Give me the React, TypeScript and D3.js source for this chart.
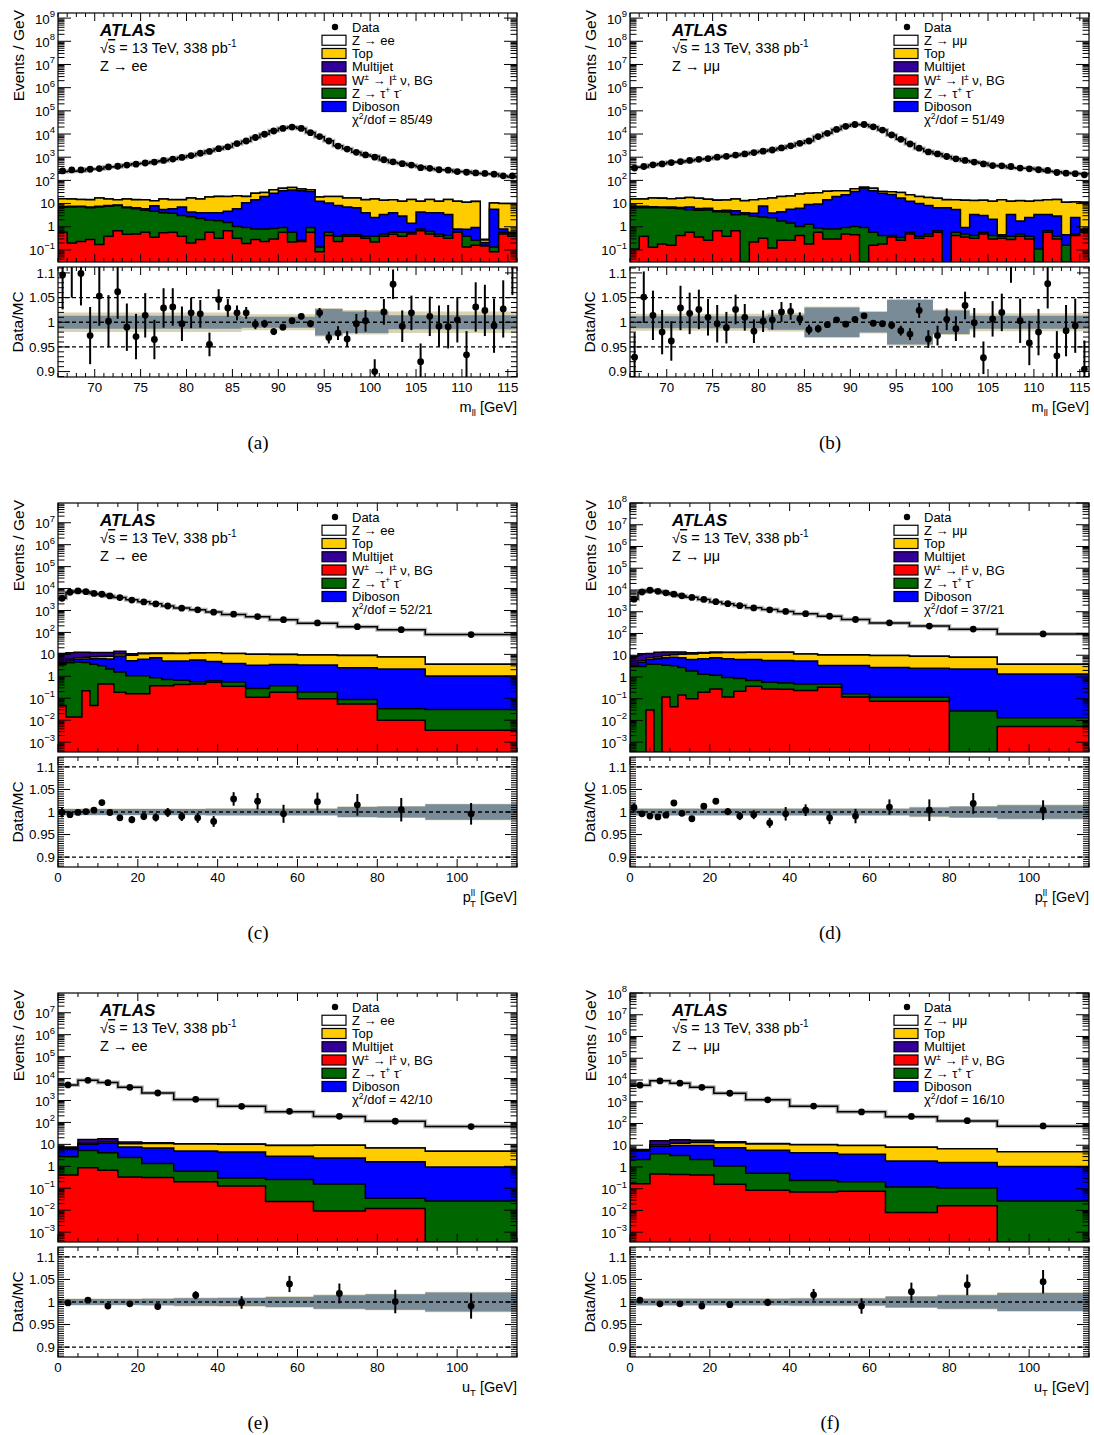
import React from "react";
import * as d3 from "d3";

const FONT = "'Liberation Sans', Arial, Helvetica, sans-serif";
const SERIF = "'Liberation Serif', 'Times New Roman', serif";

const COL_LEFT = [58, 630];
const ROW_TOP = [13, 503, 993];
const FW = 459, MH = 249, GAP = 5, RH = 110;

const COLORS = { sig: "#ffffff", top: "#ffcc00", mj: "#330099", w: "#ff0000", ztt: "#006600", dib: "#0000ff", band: "#7a8b98", bandOuter: "#d8d3b3" };

// ---------------- binning ----------------
const massEdges = d3.range(66, 117);
const ptEdges = [0, 2, 4, 6, 8, 10, 12, 14, 17, 20, 23, 26, 29, 33, 37, 41, 47, 53, 60, 70, 80, 92, 115];
const utEdges = [0, 5, 10, 15, 21, 29, 40, 52, 64, 77, 92, 115];
const massMajor = [70, 75, 80, 85, 90, 95, 100, 105, 110, 115];
const massMinor = d3.range(66, 117);
const ptMajor = [0, 20, 40, 60, 80, 100];
const ptMinor = d3.range(0, 116, 5);
const ratioMajor = [0.9, 0.95, 1, 1.05, 1.1];
const ratioLabels = ["0.9", "0.95", "1", "1.05", "1.1"];

// ---------------- (a) m_ll, ee ----------------
const aData = [257, 282, 282, 302, 324, 380, 407, 457, 501, 562, 617, 724, 832, 977, 1175, 1479, 1778, 2344, 2818, 3890, 5012, 7079, 9772, 13490, 17380, 19950, 17380, 11480, 7762, 5012, 3020, 2239, 1622, 1259, 1000, 776, 631, 525, 457, 355, 331, 288, 275, 240, 224, 209, 200, 186, 158, 158];
const aRatio = [1.096, 1.125, 1.099, 0.973, 1.053, 1.002, 1.062, 0.990, 0.971, 1.014, 0.965, 1.029, 1.031, 0.997, 1.019, 1.017, 0.955, 1.046, 1.029, 1.019, 1.019, 0.996, 0.997, 0.981, 0.990, 1.003, 1.012, 0.997, 1.019, 0.969, 0.978, 0.966, 0.997, 1.003, 0.900, 1.021, 1.077, 0.992, 1.019, 0.920, 1.012, 0.992, 0.991, 1.005, 0.934, 1.031, 1.024, 0.993, 1.027, 1.130];
const aRatioErr = [0.07, 0.075, 0.065, 0.058, 0.06, 0.053, 0.055, 0.048, 0.046, 0.045, 0.04, 0.04, 0.038, 0.035, 0.031, 0.028, 0.024, 0.021, 0.018, 0.015, 0.012, 0.01, 0.008, 0.007, 0.006, 0.006, 0.006, 0.007, 0.01, 0.012, 0.014, 0.016, 0.02, 0.022, 0.025, 0.026, 0.03, 0.032, 0.035, 0.037, 0.04, 0.042, 0.044, 0.046, 0.048, 0.05, 0.052, 0.055, 0.058, 0.075];
const aW = [0.58, 0.20, 0.23, 0.28, 0.17, 0.39, 0.68, 0.48, 0.49, 0.58, 0.355, 0.55, 0.58, 0.39, 0.20, 0.28, 0.58, 0.32, 0.68, 0.32, 0.19, 0.28, 0.23, 0.30, 0.58, 0.22, 0.234, 0.58, 0.083, 0.42, 0.234, 0.39, 0.39, 0.32, 0.22, 0.39, 0.48, 0.39, 0.49, 0.68, 0.49, 0.39, 0.32, 0.58, 0.135, 0.16, 0.148, 0.083, 0.49, 0.39];
const aZtt = [6.4, 7.0, 7.0, 6.3, 7.0, 7.3, 7.5, 6.1, 5.5, 4.6, 4.3, 3.45, 3.2, 2.7, 2.5, 2.0, 1.4, 1.5, 0.84, 0.71, 0.75, 0.52, 0.57, 0.55, 0.36, 0.36, 0.03, 0.36, 0.05, 0.16, 0.16, 0.06, 0.06, 0.07, 0.17, 0.10, 0.10, 0.19, 0.09, 0.12, 0.13, 0.10, 0.10, 0.05, 0.25, 0.10, 0.01, 0.05, 0.09, 0.10];
const aDib = [0.5, 0.5, 0.5, 0.5, 0.5, 0.5, 0.5, 0.5, 0.6, 0.8, 3.5, 1.6, 2.2, 4.1, 1.6, 1.75, 2.0, 2.2, 3.2, 5.0, 9.8, 14.0, 19.6, 27.2, 34.6, 38.4, 35.7, 32.1, 12.4, 10.1, 7.8, 6.75, 6.15, 3.6, 2.1, 2.9, 3.4, 2.3, 0.85, 3.5, 3.4, 3.5, 3.0, 0.17, 0.4, 0.68, 0.05, 5.5, 0.22, 0.09];
const aTop = [8.8, 8.0, 7.1, 7.7, 9.7, 7.5, 6.1, 8.6, 8.2, 8.8, 5.2, 10.1, 8.8, 7.6, 13.1, 11.7, 15.1, 16.4, 15.7, 15.8, 9.7, 13.2, 9.6, 11.0, 10.5, 10.0, 7.0, 6.0, 6.6, 9.7, 12.2, 10.2, 10.8, 10.8, 13.2, 10.4, 10.8, 9.6, 13.4, 8.2, 10.8, 8.5, 11.4, 11.7, 10.6, 11.5, 0.06, 5.0, 9.2, 9.4];
const aMJ = [0.03, 0.03, 0.02, 0.03, 0.02, 0.03, 0.02, 0.02, 0.03, 0.02, 0.02, 0.02, 0.03, 0.02, 0.02, 0.02, 0.02, 0.03, 0.02, 0.02, 0.02, 0.03, 0.02, 0.02, 0.03, 0.02, 0.02, 0.02, 0.02, 0.03, 0.02, 0.02, 0.02, 0.02, 0.03, 0.02, 0.02, 0.02, 0.02, 0.02, 0.02, 0.03, 0.02, 0.02, 0.02, 0.02, 0.02, 0.02, 0.02, 0.02];
const aBandIn = [0.013, 0.013, 0.013, 0.013, 0.013, 0.013, 0.013, 0.013, 0.013, 0.013, 0.013, 0.013, 0.013, 0.013, 0.013, 0.013, 0.013, 0.013, 0.013, 0.013, 0.011, 0.011, 0.011, 0.011, 0.011, 0.011, 0.011, 0.011, 0.027, 0.027, 0.027, 0.022, 0.022, 0.022, 0.022, 0.022, 0.014, 0.014, 0.014, 0.014, 0.014, 0.014, 0.014, 0.014, 0.014, 0.014, 0.014, 0.014, 0.014, 0.014];
const aBandOut = [0.02, 0.02, 0.02, 0.02, 0.02, 0.02, 0.02, 0.02, 0.02, 0.02, 0.02, 0.02, 0.02, 0.02, 0.02, 0.02, 0.02, 0.02, 0.02, 0.02, 0.016, 0.016, 0.016, 0.016, 0.016, 0.016, 0.016, 0.016, 0.029, 0.029, 0.029, 0.025, 0.025, 0.025, 0.025, 0.025, 0.022, 0.022, 0.022, 0.022, 0.022, 0.022, 0.022, 0.022, 0.022, 0.022, 0.022, 0.022, 0.022, 0.022];

// ---------------- (b) m_ll, mumu ----------------
const bData = [339, 398, 468, 513, 589, 646, 724, 813, 871, 1000, 1096, 1230, 1380, 1585, 1820, 2042, 2512, 3090, 3981, 5012, 7762, 10720, 15850, 21380, 25700, 25700, 20420, 14790, 9120, 5888, 3715, 2455, 1698, 1380, 1072, 851, 724, 617, 513, 437, 427, 398, 339, 316, 288, 269, 219, 204, 195, 174];
const bRatio = [0.929, 1.051, 1.014, 0.98, 0.962, 1.029, 1.018, 1.026, 1.01, 0.997, 0.989, 1.026, 1.01, 0.982, 1.002, 1.005, 1.021, 1.022, 1.007, 0.985, 0.987, 0.995, 1.005, 0.996, 1.006, 1.013, 0.998, 0.997, 0.994, 0.983, 0.976, 1.024, 0.966, 0.973, 1.006, 0.987, 1.034, 0.999, 0.928, 1.007, 1.02, 1.13, 1.003, 0.958, 0.98, 1.078, 0.932, 0.983, 0.993, 0.905];
const bRatioErr = [0.05, 0.052, 0.05, 0.045, 0.04, 0.045, 0.042, 0.04, 0.037, 0.038, 0.032, 0.03, 0.027, 0.024, 0.022, 0.02, 0.02, 0.017, 0.013, 0.01, 0.008, 0.006, 0.005, 0.005, 0.005, 0.005, 0.005, 0.006, 0.008, 0.01, 0.012, 0.015, 0.018, 0.02, 0.022, 0.025, 0.028, 0.03, 0.033, 0.036, 0.038, 0.05, 0.045, 0.045, 0.047, 0.05, 0.05, 0.052, 0.055, 0.058];
const bW = [0.11, 0.39, 0.13, 0.18, 0.16, 0.42, 0.58, 0.36, 0.26, 0.68, 0.39, 0.68, 0, 0.22, 0.32, 0.12, 0.26, 0.26, 0.42, 0.18, 0.58, 0.3, 0.3, 0.49, 0.45, 0, 0.16, 0.18, 0.36, 0.26, 0.49, 0.32, 0.39, 0.58, 0, 0.42, 0.36, 0.32, 0.49, 0.3, 0.32, 0.28, 0.39, 0.3, 0, 0.58, 0.3, 0, 0.42, 0.58];
const bZtt = [6.5, 6.2, 6.5, 6.4, 6.1, 5.5, 4.8, 4.8, 5.0, 3.8, 3.9, 2.6, 3.4, 2.7, 2.3, 2.3, 1.5, 1.2, 0.6, 1.1, 0.3, 0.5, 0.5, 0.45, 0.58, 0.94, 0.42, 0.24, 0.06, 0.08, 0.09, 0.07, 0.1, 0.1, 0, 0.16, 0.13, 0.1, 0.09, 0.12, 0.07, 0.11, 0.1, 0.09, 0.11, 0.1, 0.09, 0.16, 0.07, 0.1];
const bDib = [1.1, 1.1, 0.6, 0.6, 0.9, 0.9, 1.7, 1.0, 1.0, 0.4, 0.9, 1.6, 0.6, 0.9, 5.3, 1.5, 2.7, 4.2, 5.2, 7.8, 8.6, 14, 19.6, 23, 32, 45, 35, 27.6, 24, 17, 11.9, 9.6, 7.7, 5.9, 6.6, 5.0, 0.45, 3.0, 2.5, 1.7, 0.06, 3.0, 1.3, 2.1, 3.3, 2.7, 2.5, 0.29, 2.0, 0.12];
const bTop = [8.1, 8.1, 10.2, 10, 9.1, 10.2, 11, 10.8, 9.1, 9.2, 9.2, 10.7, 9.4, 10.8, 8.1, 13.4, 15.6, 15.8, 19.4, 18.8, 20, 18.8, 15.4, 12, 11, 5, 10, 5, 8, 12.6, 11.5, 10.4, 10.3, 10.3, 8.2, 9.2, 12.9, 10, 10.7, 10.4, 14.3, 9.1, 11.6, 10, 10, 11.4, 12, 11, 9.3, 10.6];
const bMJ = [0.02, 0.03, 0.02, 0.02, 0.03, 0.02, 0.02, 0.03, 0.02, 0.02, 0.02, 0.02, 0.03, 0.02, 0.02, 0.03, 0.02, 0.02, 0.02, 0.03, 0.02, 0.02, 0.02, 0.02, 0.03, 0.02, 0.02, 0.02, 0.03, 0.02, 0.02, 0.02, 0.02, 0.02, 0.03, 0.02, 0.02, 0.02, 0.02, 0.03, 0.02, 0.02, 0.02, 0.02, 0.02, 0.02, 0.02, 0.02, 0.02, 0.02];
const bBandIn = [0.012, 0.012, 0.012, 0.012, 0.012, 0.012, 0.012, 0.012, 0.012, 0.012, 0.012, 0.012, 0.012, 0.012, 0.012, 0.015, 0.015, 0.015, 0.015, 0.03, 0.03, 0.03, 0.03, 0.03, 0.03, 0.021, 0.021, 0.021, 0.045, 0.045, 0.045, 0.045, 0.045, 0.024, 0.024, 0.024, 0.024, 0.013, 0.013, 0.013, 0.013, 0.013, 0.013, 0.013, 0.013, 0.013, 0.013, 0.013, 0.013, 0.013];
const bBandOut = [0.017, 0.017, 0.017, 0.017, 0.017, 0.017, 0.017, 0.017, 0.017, 0.017, 0.017, 0.017, 0.017, 0.017, 0.017, 0.019, 0.019, 0.019, 0.019, 0.032, 0.032, 0.032, 0.032, 0.032, 0.032, 0.023, 0.023, 0.023, 0.047, 0.047, 0.047, 0.047, 0.047, 0.026, 0.026, 0.026, 0.026, 0.018, 0.018, 0.018, 0.018, 0.018, 0.018, 0.018, 0.018, 0.018, 0.018, 0.018, 0.018, 0.018];

// ---------------- (c) pT ll, ee ----------------
const cData = [3600, 6800, 7800, 7200, 6000, 5500, 4600, 3900, 3000, 2450, 2000, 1600, 1280, 1070, 840, 680, 530, 380, 270, 183, 134, 80];
const cRatio = [0.999, 0.994, 0.999, 1.001, 1.004, 1.021, 0.999, 0.987, 0.983, 0.99, 0.988, 0.999, 0.99, 0.987, 0.979, 1.029, 1.024, 0.996, 1.023, 1.016, 1.005, 0.996];
const cRatioErr = [0.011, 0.005, 0.004, 0.004, 0.004, 0.006, 0.007, 0.007, 0.008, 0.008, 0.009, 0.01, 0.01, 0.011, 0.012, 0.015, 0.018, 0.02, 0.02, 0.024, 0.026, 0.024];
const cW = [0.047, 0.014, 0.014, 0.22, 0.047, 0.45, 0.45, 0.19, 0.16, 0.16, 0.37, 0.37, 0.42, 0.45, 0.53, 0.35, 0.11, 0.19, 0.094, 0.055, 0.01, 0.0035];
const cZtt = [3.45, 4.19, 4.5, 4.0, 3.5, 2.6, 1.7, 1.4, 0.9, 0.9, 0.5, 0.35, 0.25, 0.12, 0.1, 0.2, 0.17, 0.18, 0.1, 0.032, 0.023, 0.027];
const cDib = [0.3, 1.3, 1.5, 2.0, 2.7, 3.2, 4.0, 6.8, 4.0, 5.0, 6.1, 4.3, 4.3, 5.0, 4.1, 3.3, 2.9, 3.1, 3.1, 2.4, 2.1, 1.0];
const cTop = [0.5, 0.7, 1.0, 1.2, 1.5, 1.8, 2.0, 2.0, 4.0, 4.5, 4.0, 6.0, 6.0, 6.0, 7.0, 7.0, 7.0, 6.5, 6.0, 6.5, 5.5, 2.5];
const cMJ = [6.7, 5.8, 5.5, 5.0, 4.5, 4.0, 4.0, 3.5, 1.5, 1.0, 0.6, 0.4, 0.3, 0.2, 0.1, 0.1, 0.05, 0.05, 0.03, 0.02, 0.01, 0.01];
const cBandIn = [0.0065, 0.0065, 0.0065, 0.0065, 0.0065, 0.0065, 0.0065, 0.0065, 0.0065, 0.0065, 0.0065, 0.0065, 0.0065, 0.0065, 0.007, 0.007, 0.007, 0.007, 0.007, 0.011, 0.012, 0.017];
const cBandOut = [0.008, 0.008, 0.008, 0.008, 0.008, 0.008, 0.008, 0.008, 0.008, 0.008, 0.008, 0.008, 0.008, 0.008, 0.0085, 0.0085, 0.0085, 0.0085, 0.0085, 0.0125, 0.0135, 0.0185];

// ---------------- (d) pT ll, mumu ----------------
const dData = [3800, 8100, 9700, 8700, 7400, 6400, 5400, 4550, 3700, 2900, 2350, 1900, 1500, 1230, 1030, 810, 620, 440, 310, 220, 160, 95];
const dRatio = [1.01, 0.996, 0.991, 0.989, 0.993, 1.02, 0.997, 0.985, 1.013, 1.024, 1.001, 0.991, 0.994, 0.976, 0.996, 1.004, 0.987, 0.991, 1.011, 1.004, 1.019, 1.004];
const dRatioErr = [0.009, 0.004, 0.004, 0.004, 0.004, 0.005, 0.006, 0.006, 0.007, 0.007, 0.008, 0.009, 0.01, 0.011, 0.015, 0.013, 0.014, 0.016, 0.017, 0.024, 0.023, 0.022];
const dW = [0, 0, 0.03, 0, 0.12, 0.043, 0.15, 0.1, 0.2, 0.28, 0.12, 0.22, 0.37, 0.28, 0.27, 0.24, 0.34, 0.12, 0.077, 0.077, 0, 0.0053];
const dZtt = [3, 3, 3.8, 3.8, 3.3, 3.2, 2.55, 1.8, 1.15, 0.92, 0.83, 0.64, 0.31, 0.29, 0.26, 0.24, 0.14, 0.05, 0.04, 0.04, 0.027, 0.008];
const dDib = [0.1, 1.8, 2.6, 3.0, 4.2, 4.9, 4.9, 4.5, 5.45, 6.4, 5.85, 5.5, 5.7, 5.1, 5.2, 4.9, 2.9, 3.2, 2.6, 2.4, 2.3, 1.34];
const dTop = [0.3, 0.8, 1.2, 1.5, 2, 2.5, 3.5, 5, 5.5, 5.5, 6.5, 7, 7.3, 7.9, 7.8, 6.1, 7, 7, 7, 6.5, 5.7, 2.5];
const dMJ = [5.5, 6, 4.5, 5.5, 4.5, 3.5, 3, 1.5, 1, 0.8, 0.5, 0.3, 0.2, 0.1, 0.1, 0.05, 0.05, 0.03, 0.02, 0.02, 0.01, 0.01];
const dBandIn = [0.007, 0.007, 0.007, 0.007, 0.007, 0.007, 0.007, 0.007, 0.007, 0.007, 0.007, 0.007, 0.007, 0.007, 0.007, 0.007, 0.007, 0.007, 0.007, 0.01, 0.012, 0.015];
const dBandOut = [0.0085, 0.0085, 0.0085, 0.0085, 0.0085, 0.0085, 0.0085, 0.0085, 0.0085, 0.0085, 0.0085, 0.0085, 0.0085, 0.0085, 0.0085, 0.0085, 0.0085, 0.0085, 0.0085, 0.0115, 0.0135, 0.0165];

// ---------------- (e) uT, ee ----------------
const eData = [5100, 8300, 6500, 4000, 2200, 1130, 540, 320, 190, 113, 65];
const eRatio = [0.998, 1.004, 0.991, 0.996, 0.99, 1.015, 0.999, 1.04, 1.019, 1.001, 0.991];
const eRatioErr = [0.004, 0.004, 0.004, 0.004, 0.005, 0.009, 0.014, 0.018, 0.022, 0.026, 0.028];
const eW = [0.4, 0.85, 0.66, 0.33, 0.31, 0.2, 0.126, 0.025, 0.0093, 0.012, 0];
const eZtt = [2.3, 4.45, 3.54, 2.17, 1.04, 0.4, 0.17, 0.225, 0.146, 0.023, 0.026];
const eDib = [3.2, 4.7, 7.3, 5.1, 5.45, 4.4, 4.2, 2.65, 2.25, 1.56, 0.91];
const eTop = [0.7, 1.2, 1.6, 3.0, 4.3, 5.5, 5.7, 6.1, 6.6, 5.2, 3.9];
const eMJ = [1.0, 5.6, 5.0, 2.1, 0.8, 0.2, 0.1, 0.05, 0.03, 0.02, 0.01];
const eBandIn = [0.0067, 0.0067, 0.0067, 0.0067, 0.007, 0.0085, 0.009, 0.011, 0.015, 0.017, 0.021];
const eBandOut = [0.008, 0.008, 0.008, 0.008, 0.0085, 0.01, 0.0105, 0.0125, 0.0165, 0.0185, 0.0225];

// ---------------- (f) uT, mumu ----------------
const fData = [5800, 9100, 7100, 4600, 2450, 1230, 630, 340, 210, 135, 77];
const fRatio = [1.004, 0.996, 0.996, 0.991, 0.994, 0.999, 1.016, 0.991, 1.023, 1.038, 1.045];
const fRatioErr = [0.004, 0.003, 0.003, 0.003, 0.004, 0.008, 0.013, 0.017, 0.02, 0.023, 0.026];
const fW = [0.17, 0.48, 0.45, 0.43, 0.16, 0.085, 0.071, 0.077, 0.0081, 0.0166, 0];
const fZtt = [2.03, 3.62, 2.95, 1.77, 0.94, 0.425, 0.17, 0.133, 0.112, 0.09, 0.027];
const fDib = [3.2, 4.9, 6.3, 7.5, 6.5, 5.4, 4.26, 3.6, 1.78, 1.5, 1.02];
const fTop = [0.5, 1.2, 2.5, 3.5, 5.5, 5.6, 6.1, 5.9, 6.2, 5.2, 4.0];
const fMJ = [0.5, 6.0, 5.8, 3.6, 1.5, 0.4, 0.1, 0.05, 0.03, 0.02, 0.01];
const fBandIn = [0.007, 0.007, 0.007, 0.007, 0.007, 0.007, 0.008, 0.008, 0.012, 0.015, 0.02];
const fBandOut = [0.0085, 0.0085, 0.0085, 0.0085, 0.0085, 0.0085, 0.0095, 0.0095, 0.0135, 0.0165, 0.0215];

const chi2 = ["85/49", "51/49", "52/21", "37/21", "42/10", "16/10"];
const tags = ["(a)", "(b)", "(c)", "(d)", "(e)", "(f)"];

function mk(i, edges, kind, data, ratio, ratioErr, w, ztt, dib, topBg, mj, bandIn, bandOut) {
  const col = i % 2, row = Math.floor(i / 2);
  const isMass = kind === "m";
  return {
    key: tags[i], fLeft: COL_LEFT[col], fTop: ROW_TOP[row], edges,
    xDomain: [edges[0], edges[edges.length - 1]],
    xMajor: isMass ? massMajor : ptMajor, xMinor: isMass ? massMinor : ptMinor,
    logLo: isMass ? -1.52 : -3.45, logHi: isMass ? 9.22 : (col === 0 ? 7.9 : 8.0),
    rLo: isMass ? 0.889 : 0.878, rHi: isMass ? 1.112 : 1.122,
    rMinor: isMass ? d3.range(89, 112).map(v => v / 100) : d3.range(176, 225).map(v => v / 200),
    rDashed: isMass ? [0.95, 1, 1.05] : [0.9, 1, 1.1],
    data, ratio, ratioErr, w, ztt, dib, topBg, mj, bandIn, bandOut,
    chan: col === 0 ? "ee" : "mm", xTitle: kind, chi2: chi2[i], tag: tags[i],
  };
}

const PANELS = [
  mk(0, massEdges, "m", aData, aRatio, aRatioErr, aW, aZtt, aDib, aTop, aMJ, aBandIn, aBandOut),
  mk(1, massEdges, "m", bData, bRatio, bRatioErr, bW, bZtt, bDib, bTop, bMJ, bBandIn, bBandOut),
  mk(2, ptEdges, "pt", cData, cRatio, cRatioErr, cW, cZtt, cDib, cTop, cMJ, cBandIn, cBandOut),
  mk(3, ptEdges, "pt", dData, dRatio, dRatioErr, dW, dZtt, dDib, dTop, dMJ, dBandIn, dBandOut),
  mk(4, utEdges, "ut", eData, eRatio, eRatioErr, eW, eZtt, eDib, eTop, eMJ, eBandIn, eBandOut),
  mk(5, utEdges, "ut", fData, fRatio, fRatioErr, fW, fZtt, fDib, fTop, fMJ, fBandIn, fBandOut),
];

const TICK_FS = 13.3;

function LogLabel({ k, x, y }) {
  if (k === 0) return <text x={x} y={y + 4.7} textAnchor="end" fontSize={TICK_FS}>1</text>;
  if (k === 1) return <text x={x} y={y + 4.7} textAnchor="end" fontSize={TICK_FS}>10</text>;
  return (
    <text x={x} y={y + 5.5} textAnchor="end" fontSize={TICK_FS}>
      10<tspan dy={-6.5} fontSize={9.5}>{k < 0 ? "\u2212" + (-k) : String(k)}</tspan>
    </text>
  );
}

function PanelView({ c }) {
  const L = c.fLeft, T = c.fTop, R = L + FW, B = T + MH;
  const rT = B + GAP, rB = rT + RH;
  const x = d3.scaleLinear().domain(c.xDomain).range([L, R]);
  const y = d3.scaleLog().domain([Math.pow(10, c.logLo), Math.pow(10, c.logHi)]).range([B, T]).clamp(true);
  const yr = d3.scaleLinear().domain([c.rLo, c.rHi]).range([rB, rT]);
  const n = c.data.length;
  const centers = d3.range(n).map(i => (c.edges[i] + c.edges[i + 1]) / 2);
  const mc = c.data.map((d, i) => d / c.ratio[i]);
  const rows = d3.range(n).map(i => ({ w: c.w[i], ztt: c.ztt[i], dib: c.dib[i], top: c.topBg[i], mj: c.mj[i] }));
  const series = d3.stack().keys(["w", "ztt", "dib", "top", "mj"])(rows);
  const cum = k => series[k].map(s => s[1]);
  const floorV = Math.pow(10, c.logLo - 2);
  const steps = vals => c.edges.map((e, i) => ({ e, v: vals[Math.min(i, n - 1)] }));
  const area = d3.area().x(d => x(d.e)).y0(B + 3).y1(d => y(Math.max(d.v, floorV))).curve(d3.curveStepAfter);
  const line = d3.line().x(d => x(d.e)).y(d => y(Math.max(d.v, floorV))).curve(d3.curveStepAfter);
  const band = d3.area().x(d => x(d.e)).y0(d => yr(1 - d.v)).y1(d => yr(1 + d.v)).curve(d3.curveStepAfter);

  const layers = [
    { vals: cum(4), fill: COLORS.mj },
    { vals: cum(3), fill: COLORS.top },
    { vals: cum(2), fill: COLORS.dib },
    { vals: cum(1), fill: COLORS.ztt },
    { vals: cum(0), fill: COLORS.w },
  ];

  const logMajor = [], logMinor = [];
  for (let k = Math.floor(c.logLo); k <= Math.ceil(c.logHi); k++) {
    for (let m = 1; m <= 9; m++) {
      const lv = Math.log10(m) + k;
      if (lv < c.logLo - 1e-9 || lv > c.logHi + 1e-9) continue;
      if (m === 1) logMajor.push(k); else logMinor.push(m * Math.pow(10, k));
    }
  }
  const isMaj = v => c.xMajor.some(mv => Math.abs(mv - v) < 1e-9);
  const id = c.tag.replace(/[()]/g, "");
  const clipMain = `clipM${id}`;
  const clipRatio = `clipR${id}`;

  const chanLabel = c.chan === "ee" ? "Z \u2192 ee" : "Z \u2192 \u03bc\u03bc";
  const legRows = [
    { fill: COLORS.sig, label: <>{chanLabel}</> },
    { fill: COLORS.top, label: <>Top</> },
    { fill: COLORS.mj, label: <>Multijet</> },
    { fill: COLORS.w, label: <>W<tspan dy={-5} fontSize={8.5}>{"\u00b1"}</tspan><tspan dy={5}>{" \u2192 l"}</tspan><tspan dy={-5} fontSize={8.5}>{"\u00b1"}</tspan><tspan dy={5}>{" \u03bd, BG"}</tspan></> },
    { fill: COLORS.ztt, label: <>{"Z \u2192 \u03c4"}<tspan dy={-5} fontSize={8.5}>+</tspan><tspan dy={5}>{" \u03c4"}</tspan><tspan dy={-5} fontSize={8.5}>-</tspan></> },
    { fill: COLORS.dib, label: <>Diboson</> },
  ];
  const legY = k => T + 14 + 13.25 * k;
  const legBoxX = L + 264, legTextX = L + 294;

  let xTitle;
  if (c.xTitle === "m") {
    xTitle = <>m<tspan dy={4} fontSize={9.5}>ll</tspan><tspan dy={-4}> [GeV]</tspan></>;
  } else if (c.xTitle === "pt") {
    xTitle = <>p<tspan dy={-6} fontSize={9.5}>ll</tspan><tspan dx={-5} dy={11} fontSize={9.5}>T</tspan><tspan dy={-5}> [GeV]</tspan></>;
  } else {
    xTitle = <>u<tspan dy={4} fontSize={9.5}>T</tspan><tspan dy={-4}> [GeV]</tspan></>;
  }

  return (
    <g>
      <defs>
        <clipPath id={clipMain}><rect x={L} y={T} width={FW} height={MH} /></clipPath>
        <clipPath id={clipRatio}><rect x={L} y={rT} width={FW} height={RH} /></clipPath>
      </defs>

      <g clipPath={`url(#${clipMain})`}>
        <path d={area(steps(mc))} fill={COLORS.sig} />
        <path d={line(steps(mc))} fill="none" stroke="#b8b8b8" strokeWidth={4} />
        <path d={line(steps(mc))} fill="none" stroke="#000" strokeWidth={1.5} />
        {layers.map((ly, i) => (
          <path key={i} d={area(steps(ly.vals))} fill={ly.fill} stroke="#000" strokeWidth={1.5} />
        ))}
        {c.data.map((d, i) => (
          <circle key={i} cx={x(centers[i])} cy={y(d)} r={3.4} fill="#000" />
        ))}
      </g>

      <g clipPath={`url(#${clipRatio})`}>
        <path d={band(steps(c.bandOut))} fill={COLORS.bandOuter} />
        <path d={band(steps(c.bandIn))} fill={COLORS.band} />
        {c.rDashed.map(v => (
          <line key={v} x1={L} x2={R} y1={yr(v)} y2={yr(v)} stroke="#000" strokeWidth={1.3} strokeDasharray="4,3" />
        ))}
        {c.ratio.map((r, i) => (
          <g key={i}>
            <line x1={x(centers[i])} x2={x(centers[i])} y1={yr(r - c.ratioErr[i])} y2={yr(r + c.ratioErr[i])} stroke="#000" strokeWidth={2} />
            <circle cx={x(centers[i])} cy={yr(r)} r={3.4} fill="#000" />
          </g>
        ))}
      </g>

      <g stroke="#000" strokeWidth={1}>
        {c.xMinor.map(v => {
          const len = isMaj(v) ? 8 : 4;
          const xx = x(v);
          return (
            <g key={v}>
              <line x1={xx} x2={xx} y1={B} y2={B - len} />
              <line x1={xx} x2={xx} y1={T} y2={T + len} />
              <line x1={xx} x2={xx} y1={rB} y2={rB - len} />
              <line x1={xx} x2={xx} y1={rT} y2={rT + len} />
            </g>
          );
        })}
        {logMajor.map(k => {
          const yy = y(Math.pow(10, k));
          return (
            <g key={"M" + k}>
              <line x1={L} x2={L + 13} y1={yy} y2={yy} />
              <line x1={R} x2={R - 13} y1={yy} y2={yy} />
            </g>
          );
        })}
        {logMinor.map((v, i) => {
          const yy = y(v);
          return (
            <g key={"m" + i}>
              <line x1={L} x2={L + 6.5} y1={yy} y2={yy} />
              <line x1={R} x2={R - 6.5} y1={yy} y2={yy} />
            </g>
          );
        })}
        {c.rMinor.map((v, i) => {
          const yy = yr(v);
          const maj = ratioMajor.some(m => Math.abs(m - v) < 1e-9);
          const len = maj ? 12 : 6;
          return (
            <g key={"r" + i}>
              <line x1={L} x2={L + len} y1={yy} y2={yy} />
              <line x1={R} x2={R - len} y1={yy} y2={yy} />
            </g>
          );
        })}
      </g>

      <rect x={L} y={T} width={FW} height={MH} fill="none" stroke="#000" strokeWidth={1.2} />
      <rect x={L} y={rT} width={FW} height={RH} fill="none" stroke="#000" strokeWidth={1.2} />

      {logMajor.map(k => <LogLabel key={k} k={k} x={L - 3} y={y(Math.pow(10, k))} />)}
      {ratioMajor.map((v, i) => (
        <text key={v} x={L - 3} y={yr(v) + 4.7} textAnchor="end" fontSize={TICK_FS}>{ratioLabels[i]}</text>
      ))}
      {c.xMajor.map(v => (
        <text key={v} x={x(v)} y={rB + 14.5} textAnchor="middle" fontSize={TICK_FS}>{String(v)}</text>
      ))}

      <text transform={`translate(${L - 34},${T - 3}) rotate(-90)`} textAnchor="end" fontSize={15.5}>Events / GeV</text>
      <text transform={`translate(${L - 35},${(rT + rB) / 2}) rotate(-90)`} textAnchor="middle" fontSize={15.5}>Data/MC</text>
      <text x={R} y={rB + 35} textAnchor="end" fontSize={14.5}>{xTitle}</text>
      <text x={L + 200} y={rB + 72} textAnchor="middle" fontSize={19} fontFamily={SERIF}>{c.tag}</text>

      <text x={L + 42} y={T + 23} fontSize={17} fontWeight="bold" fontStyle="italic">ATLAS</text>
      <text x={L + 42} y={T + 40} fontSize={14.5}>
        {"\u221a"}<tspan textDecoration="overline">s</tspan>{" = 13 TeV, 338 pb"}<tspan dy={-6} fontSize={10}>-1</tspan>
      </text>
      <text x={L + 42} y={T + 58} fontSize={14.5}>{chanLabel}</text>

      <circle cx={L + 277} cy={legY(0)} r={3.2} fill="#000" />
      <text x={legTextX} y={legY(0) + 4.5} fontSize={13}>Data</text>
      {legRows.map((lr, k) => (
        <g key={k}>
          <rect x={legBoxX} y={legY(k + 1) - 5} width={24} height={10} fill={lr.fill} stroke="#000" strokeWidth={1.2} />
          <text x={legTextX} y={legY(k + 1) + 4.5} fontSize={13}>{lr.label}</text>
        </g>
      ))}
      <text x={legTextX} y={legY(7) + 4.5} fontSize={13}>
        {"\u03c7"}<tspan dy={-5} fontSize={8.5}>2</tspan><tspan dy={5}>{"/dof = " + c.chi2}</tspan>
      </text>
    </g>
  );
}

export default function App() {
  return (
    <svg width={1094} height={1435} viewBox="0 0 1094 1435" style={{ position: "absolute", left: 0, top: 0, background: "#fff" }} fontFamily={FONT}>
      <rect x={0} y={0} width={1094} height={1435} fill="#fff" />
      {PANELS.map(c => <PanelView key={c.key} c={c} />)}
    </svg>
  );
}
